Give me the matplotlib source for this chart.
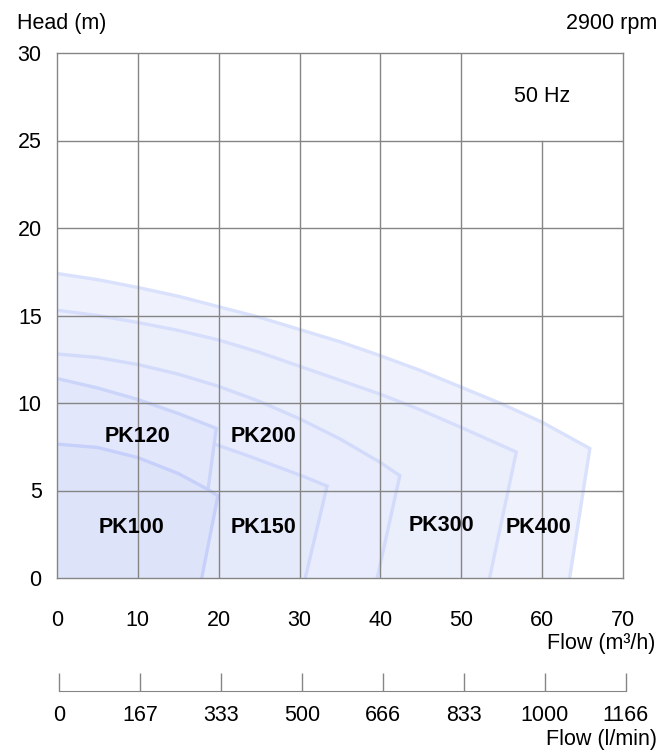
import numpy as np
import matplotlib
matplotlib.use("Agg")
import matplotlib.pyplot as plt

plt.rcParams['font.family'] = ['Liberation Sans', 'DejaVu Sans']

# pump curves (flow m3/h, head m)
pumps = ['PK400', 'PK300', 'PK200', 'PK150', 'PK120', 'PK100']

flow_pk400 = [0, 5, 10, 15, 20, 25, 30, 35, 40, 45, 50, 55, 60, 65.9]
head_pk400 = [17.4, 17.05, 16.6, 16.1, 15.5, 14.9, 14.2, 13.5, 12.7, 11.85,
              10.9, 9.95, 8.9, 7.4]
flow_pk300 = [0, 5, 10, 15, 20, 25, 30, 35, 40, 45, 50, 56.8]
head_pk300 = [15.3, 15.0, 14.6, 14.15, 13.6, 12.9, 12.1, 11.3, 10.5, 9.6,
              8.6, 7.2]
flow_pk200 = [0, 5, 10, 15, 20, 25, 30, 35, 40, 42.4]
head_pk200 = [12.8, 12.6, 12.2, 11.65, 10.95, 10.1, 9.1, 7.95, 6.6, 5.85]
flow_pk150 = [0, 10, 19.8, 23.7, 27.6, 30.5, 33.4]
head_pk150 = [9.8, 8.9, 7.6, 6.97, 6.3, 5.8, 5.25]
flow_pk120 = [0, 5, 10, 15, 19.7]
head_pk120 = [11.4, 10.86, 10.2, 9.4, 8.55]
flow_pk100 = [0, 5, 10, 15, 18.5, 19.9]
head_pk100 = [7.65, 7.46, 6.88, 5.97, 5.1, 4.7]

# where the right edge of each area meets the flow axis
flow_zero = [63.4, 53.5, 39.6, 30.7, 17.2, 17.9]

curves = [(flow_pk400, head_pk400), (flow_pk300, head_pk300),
          (flow_pk200, head_pk200), (flow_pk150, head_pk150),
          (flow_pk120, head_pk120), (flow_pk100, head_pk100)]

label_x = [59.6, 47.6, 25.5, 25.6, 10.0, 9.2]
label_y = [2.9, 3.0, 8.1, 2.9, 8.1, 2.9]

x_ticks = [0, 10, 20, 30, 40, 50, 60, 70]
y_ticks = [0, 5, 10, 15, 20, 25, 30]
lpm_ticks = [0, 167, 333, 500, 666, 833, 1000, 1166]

fills = ['#eff2fd', '#ebeffc', '#e8ecfc', '#e5eafb', '#e2e7fb', '#dde4fa']
edges = ['#d9e1fc', '#d6defc', '#d3dbfb', '#d0d9fb', '#cbd5fa', '#c6d0fa']
grey = '#858585'
fs = 15.5

W, H = 661, 751
fig = plt.figure(figsize=(W / 100, H / 100), dpi=100)
ax = fig.add_axes([57 / W, 173 / H, 566 / W, 525 / H])
ax.set_xlim(0, 70)
ax.set_ylim(0, 30)

for i, (q, h) in enumerate(curves):
    xs = [0] + list(q) + [flow_zero[i]]
    ys = [0] + list(h) + [0]
    ax.fill(xs, ys, color=fills[i], lw=0, zorder=1 + i * 0.1)
    ax.plot(list(q) + [flow_zero[i]], list(h) + [0], color=edges[i],
            lw=2.4, zorder=1.05 + i * 0.1, solid_joinstyle='miter')

# grid; the top right cell is kept open for the 50 Hz box
for x in x_ticks[1:-1]:
    top = 25 if x == 60 else 30
    ax.plot([x, x], [0, top], color=grey, lw=1, zorder=3)
for y in y_ticks[1:-1]:
    ax.plot([0, 70], [y, y], color=grey, lw=1, zorder=3)

for s in ax.spines.values():
    s.set_color(grey)
    s.set_linewidth(1)
    s.set_zorder(3)

ax.set_xticks(x_ticks)
ax.set_yticks(y_ticks)
ax.tick_params(axis='x', length=0, pad=23, labelsize=fs)
ax.tick_params(axis='y', length=0, pad=11, labelsize=fs)

for name, lx, ly in zip(pumps, label_x, label_y):
    ax.text(lx, ly, name, ha='center', va='center', fontsize=fs,
            fontweight='bold', zorder=4)

ax.text(60, 27.5, '50 Hz', ha='center', va='center', fontsize=fs, zorder=4)

fig.text(17 / W, 1 - 23 / H, 'Head (m)', ha='left', va='center', fontsize=fs)
fig.text(657 / W, 1 - 23 / H, '2900 rpm', ha='right', va='center', fontsize=fs)
fig.text(655 / W, 1 - 643 / H, 'Flow (m³/h)', ha='right', va='center', fontsize=fs)
fig.text(657 / W, 1 - 740 / H, 'Flow (l/min)', ha='right', va='center', fontsize=fs)

# second flow scale in l/min
ax2 = fig.add_axes([59 / W, (H - 691) / H, 567 / W, 0.03])
ax2.set_xlim(0, 70 * 1000 / 60)
ax2.set_ylim(0, 1)
ax2.patch.set_visible(False)
for k in ['top', 'left', 'right']:
    ax2.spines[k].set_visible(False)
ax2.spines['bottom'].set_color(grey)
ax2.set_yticks([])
ax2.set_xticks(lpm_ticks)
ax2.tick_params(axis='x', direction='in', length=13, width=1, color=grey,
                pad=10, labelsize=fs)

fig.savefig('out.png', dpi=100)
